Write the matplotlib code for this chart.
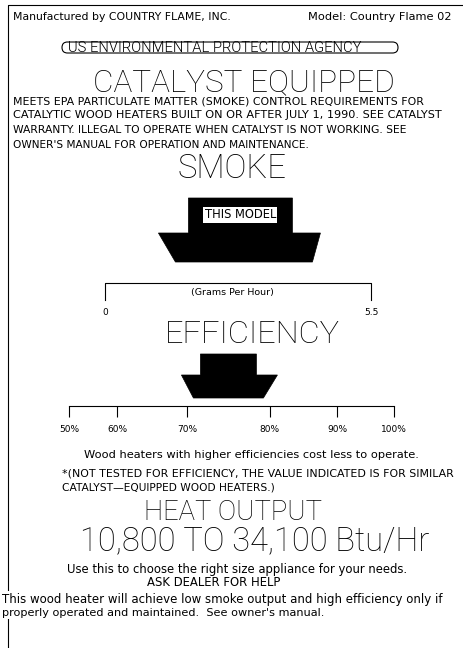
import numpy as np
import matplotlib
matplotlib.use('Agg')
import matplotlib.pyplot as plt
from matplotlib.patches import Polygon, FancyBboxPatch

# label values ---------------------------------------------------------------
maker = 'COUNTRY FLAME, INC.'
model = 'Country Flame 02'
smoke_range = [0, 5.5]
smoke_labels = ['0', '5.5']
smoke_value = 2.8          # grams per hour
eff_ticks = [50, 60, 70, 80, 90, 100]
eff_labels = ['50%', '60%', '70%', '80%', '90%', '100%']
eff_value = 75             # percent
heat_low = 10800
heat_high = 34100

# the efficiency bar on the label is not evenly spaced
eff_frac = [0, 0.148, 0.363, 0.618, 0.825, 1]

W, H = 464, 648
fig = plt.figure(figsize=(W / 100, H / 100), dpi=100)
ax = fig.add_axes([0, 0, 1, 1])
ax.set_xlim(0, W)
ax.set_ylim(H, 0)
ax.axis('off')
renderer = fig.canvas.get_renderer()

THIN = dict(family='Roboto', fontweight=100)
LIGHT = dict(family='Roboto', fontweight=300)
SMALL = dict(family='DejaVu Sans')
CAP_RATIO = {'Roboto': 0.711, 'DejaVu Sans': 0.729}


def put(x, y, s, width, cap, ha='left', style=SMALL, wt=0.5, **kw):
    # place text on its baseline; size is a compromise between the width and
    # the capital height seen on the label
    t = ax.text(x, y, s, ha=ha, va='baseline', fontsize=10, zorder=3, **style, **kw)
    w = t.get_window_extent(renderer).width
    size_w = 10 * width / w
    size_h = cap / CAP_RATIO[style['family']] * 0.72
    t.set_fontsize(size_w ** wt * size_h ** (1 - wt))
    return t


def small(x, y, s, width, ha='left', **kw):
    return put(x, y, s, width, 7, ha=ha, wt=0.85, **kw)


def to_px(axes, value):
    disp = axes.transData.transform((value, 0))
    return ax.transData.inverted().transform(disp)[0]


# frame (left and top edge only)
ax.plot([8, 8, W], [H, 5, 5], color='k', lw=0.8, zorder=1)

# header -----------------------------------------------------------------------
small(13, 20.5, 'Manufactured by ' + maker, 222)
small(452, 20.5, 'Model: ' + model, 147, ha='right')

ax.add_patch(FancyBboxPatch((62, 42), 336, 11, boxstyle='round,pad=0,rounding_size=5.5',
                            fill=False, lw=0.8, ec='k'))
put(68, 52, 'US ENVIRONMENTAL PROTECTION AGENCY', 320, 9, style=LIGHT, wt=0.65)
put(244, 91, 'CATALYST EQUIPPED', 308, 22, ha='center', style=THIN)

para = ['MEETS EPA PARTICULATE MATTER (SMOKE) CONTROL REQUIREMENTS FOR',
        'CATALYTIC WOOD HEATERS BUILT ON OR AFTER JULY 1, 1990. SEE CATALYST',
        'WARRANTY. ILLEGAL TO OPERATE WHEN CATALYST IS NOT WORKING. SEE',
        "OWNER'S MANUAL FOR OPERATION AND MAINTENANCE."]
para_w = [422, 440, 402, 300]
for i, (line, w) in enumerate(zip(para, para_w)):
    small(13, 104 + 14.5 * i, line, w)

# smoke ------------------------------------------------------------------------
put(232, 178, 'SMOKE', 110, 23, ha='center', style=THIN)

sax = fig.add_axes([105 / W, 1 - 300 / H, 266 / W, 17 / H])
sax.set_xlim(smoke_range)
sax.set_ylim(0, 1)
sax.plot([smoke_range[0], smoke_range[0], smoke_range[1], smoke_range[1]], [0, 1, 1, 0],
         color='k', lw=0.8, clip_on=False)
for s in sax.spines.values():
    s.set_visible(False)
sax.set_yticks([])
sax.set_xticks(smoke_range, smoke_labels)
sax.tick_params(axis='x', length=0, pad=6, labelsize=6.5)
sax.patch.set_alpha(0)
sax.text(0.48, 0.3, '(Grams Per Hour)', transform=sax.transAxes, ha='center',
         va='baseline', fontsize=6.8)

cx = to_px(sax, smoke_value)
smoke_shape = [(-52, 198), (52, 198), (52, 233), (80, 233), (72, 262),
               (-65, 262), (-82, 233), (-52, 233)]
ax.add_patch(Polygon([(cx + dx, y) for dx, y in smoke_shape], closed=True,
                     fc='k', ec='k', lw=0.5))
put(cx, 218.5, 'THIS MODEL', 71, 8.5, ha='center',
    bbox=dict(fc='white', ec='none', boxstyle='square,pad=0.12'))

# efficiency -------------------------------------------------------------------
put(252, 343, 'EFFICIENCY', 177, 23, ha='center', style=THIN)

eax = fig.add_axes([69 / W, 1 - 406 / H, 325 / W, 10 / H])
eax.set_xscale('function', functions=(lambda v: np.interp(v, eff_ticks, eff_frac),
                                      lambda f: np.interp(f, eff_frac, eff_ticks)))
eax.set_xlim(eff_ticks[0], eff_ticks[-1])
for k in ['top', 'left', 'right']:
    eax.spines[k].set_visible(False)
eax.spines['bottom'].set_linewidth(0.8)
eax.set_yticks([])
eax.set_xticks(eff_ticks, eff_labels)
eax.xaxis.set_minor_locator(matplotlib.ticker.NullLocator())
eax.tick_params(axis='x', direction='out', length=8, width=0.8, pad=6, labelsize=6.5)
eax.patch.set_alpha(0)

ex = to_px(eax, eff_value)
eff_shape = [(-28, 354), (28, 354), (28, 375), (49, 375), (35, 398),
             (-35, 398), (-47, 375), (-28, 375)]
ax.add_patch(Polygon([(ex + dx, y) for dx, y in eff_shape], closed=True,
                     fc='k', ec='k', lw=0.5))

small(251, 457.5, 'Wood heaters with higher efficiencies cost less to operate.', 344, ha='center')
small(62, 476.5, '*(NOT TESTED FOR EFFICIENCY, THE VALUE INDICATED IS FOR SIMILAR', 399)
small(62, 490.5, 'CATALYST\u2014EQUIPPED WOOD HEATERS.)', 217)

# heat output ------------------------------------------------------------------
put(233, 520.5, 'HEAT OUTPUT', 183, 19, ha='center', style=THIN)
put(255, 550, f'{heat_low:,} TO {heat_high:,} Btu/Hr', 374, 21, ha='center', style=THIN, wt=0.6)

small(237.5, 573.5, 'Use this to choose the right size appliance for your needs.', 351, ha='center')
small(214, 585.5, 'ASK DEALER FOR HELP', 138, ha='center')

wbox = dict(fc='white', ec='none', boxstyle='square,pad=0.1')
small(2, 602.5, 'This wood heater will achieve low smoke output and high efficiency only if',
      455, bbox=wbox)
small(2, 615.5, "properly operated and maintained.  See owner's manual.", 330, bbox=wbox)

fig.savefig('out.png', dpi=100, facecolor='white')
